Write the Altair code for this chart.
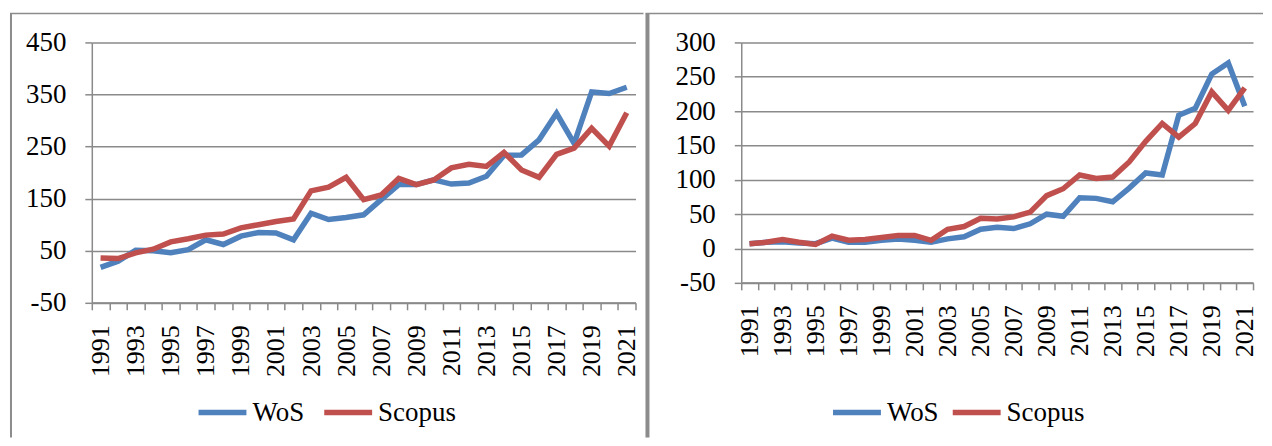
import altair as alt
import pandas as pd

years = ["1991", "1992", "1993", "1994", "1995", "1996", "1997", "1998", "1999", "2000",
         "2001", "2002", "2003", "2004", "2005", "2006", "2007", "2008", "2009", "2010",
         "2011", "2012", "2013", "2014", "2015", "2016", "2017", "2018", "2019", "2020", "2021"]

left_wos = [18, 30, 51, 50, 46, 52, 71, 62, 78, 85, 84, 71, 122, 110, 114, 119, 148, 177, 177, 186,
            178, 180, 193, 233, 234, 263, 314, 256, 355, 352, 364]
left_scopus = [36, 35, 46, 53, 67, 73, 80, 82, 94, 100, 106, 111, 165, 172, 191, 148, 157, 189, 177, 186,
               209, 216, 212, 239, 205, 191, 235, 247, 285, 251, 315]

right_wos = [7, 9, 10, 8, 7, 15, 9, 9, 12, 14, 12, 9, 14, 17, 28, 31, 29, 36, 50, 47,
             74, 73, 68, 88, 110, 107, 194, 204, 254, 270, 207]
right_scopus = [7, 9, 13, 9, 6, 18, 12, 13, 16, 19, 19, 12, 28, 32, 44, 43, 46, 53, 77, 87,
                107, 102, 104, 126, 156, 182, 162, 182, 228, 201, 234]

left_ticks = [-50, 50, 150, 250, 350, 450]
right_ticks = [-50, 0, 50, 100, 150, 200, 250, 300]

series_names = ["WoS", "Scopus"]
series_colors = ["#4F81BD", "#C0504D"]

FONT = "Liberation Serif"
GRID = "#8a8a8a"
FRAME = "#8c8c8c"


def make_df(wos, scopus):
    rows = []
    for y, v in zip(years, wos):
        rows.append({"year": y, "series": "WoS", "value": v})
    for y, v in zip(years, scopus):
        rows.append({"year": y, "series": "Scopus", "value": v})
    return pd.DataFrame(rows)


frame_df = pd.DataFrame({"k": [0]})


def panel(df, ticks, w, h, legend_x, legend_y, col_pad, frame_layers):
    x = alt.X(
        "year:O", title=None, sort=years, bandPosition=0.5,
        scale=alt.Scale(type="band", paddingInner=0, paddingOuter=0),
        axis=alt.Axis(
            tickBand="extent", labelAngle=270, labelOverlap=False,
            labelExpr="toNumber(datum.value) % 2 == 1 ? datum.label : ''",
            labelFont=FONT, labelFontSize=26, labelColor="black", labelPadding=15,
            labelAlign="right", labelBaseline="middle",
            tickSize=7, tickColor=GRID, tickWidth=1.5,
            domainColor=GRID, domainWidth=2, grid=False,
        ),
    )
    y = alt.Y(
        "value:Q", title=None,
        scale=alt.Scale(domain=[ticks[0], ticks[-1]], nice=False, zero=False),
        axis=alt.Axis(
            values=ticks, grid=True, gridColor=GRID, gridWidth=1.5,
            tickSize=7, tickColor=GRID, tickWidth=1.5,
            domainColor=GRID, domainWidth=1.5,
            labelExpr="'' + datum.value",
            labelFont=FONT, labelFontSize=27, labelColor="black", labelPadding=19,
        ),
    )
    color = alt.Color(
        "series:N",
        scale=alt.Scale(domain=series_names, range=series_colors),
        legend=alt.Legend(
            orient="none", legendX=legend_x, legendY=legend_y, direction="horizontal",
            title=None, symbolType="stroke", symbolSize=2304, symbolStrokeWidth=5.5,
            labelFont=FONT, labelFontSize=27, labelColor="black",
            columnPadding=col_pad, labelOffset=3,
        ),
    )
    base = alt.Chart(df).encode(x=x, y=y, color=color)
    wos_line = base.transform_filter(alt.datum.series == "WoS").mark_line(strokeWidth=5.5)
    sc_line = base.transform_filter(alt.datum.series == "Scopus").mark_line(strokeWidth=5.5)
    return alt.layer(*frame_layers, wos_line, sc_line).properties(width=w, height=h)


left_frame = [
    alt.Chart(frame_df).mark_rule(color=FRAME, strokeWidth=2).encode(
        x=alt.value(-81), y=alt.value(-29), y2=alt.value(396)),
    alt.Chart(frame_df).mark_rule(color=FRAME, strokeWidth=1.5).encode(
        x=alt.value(-82), x2=alt.value(553), y=alt.value(-29)),
]
right_frame = [
    alt.Chart(frame_df).mark_rule(color=FRAME, strokeWidth=4).encode(
        x=alt.value(-94), y=alt.value(-29), y2=alt.value(396)),
    alt.Chart(frame_df).mark_rule(color=FRAME, strokeWidth=1.5).encode(
        x=alt.value(-96), x2=alt.value(523), y=alt.value(-29)),
]

left = panel(make_df(left_wos, left_scopus), left_ticks, 545, 261, 104, 344, 9, left_frame)
right = panel(make_df(right_wos, right_scopus), right_ticks, 513, 241, 89, 344, 3, right_frame)

chart = alt.hconcat(left, right, spacing=0).resolve_scale(color="independent").properties(
    padding={"left": 1, "top": 3, "right": 0, "bottom": 0}
).configure_view(stroke=None)

chart.save("out.html", embed_options={"renderer": "svg", "actions": False})
